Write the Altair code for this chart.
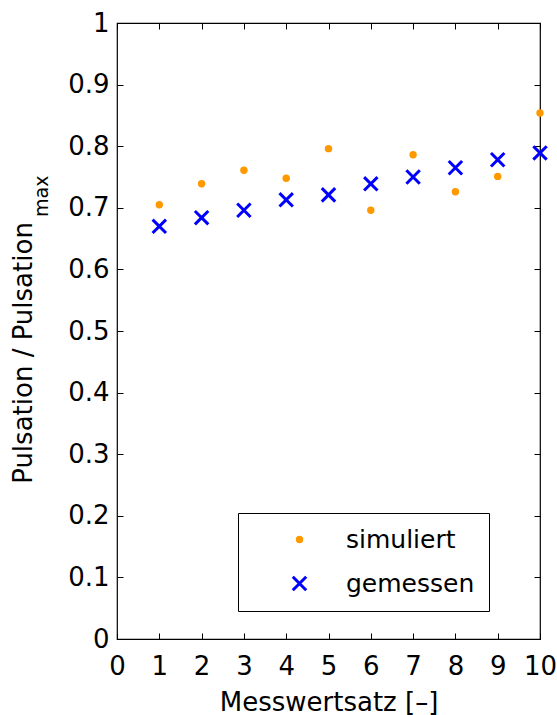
import altair as alt
import pandas as pd

# ---- data ----
messwertsatz = [1, 2, 3, 4, 5, 6, 7, 8, 9, 10]
simuliert = [0.705, 0.739, 0.761, 0.748, 0.796, 0.696, 0.786, 0.726, 0.751, 0.854]
gemessen = [0.670, 0.684, 0.696, 0.713, 0.721, 0.739, 0.750, 0.765, 0.778, 0.789]
series_names = ["simuliert", "gemessen"]
x_ticks = [0, 1, 2, 3, 4, 5, 6, 7, 8, 9, 10]
y_ticks = [0, 0.1, 0.2, 0.3, 0.4, 0.5, 0.6, 0.7, 0.8, 0.9, 1]
y_title_main = ["Pulsation / Pulsation"]
y_title_sub = ["max"]

FONT = "DejaVu Sans"
X_PATH = "M-1,-1L1,1M1,-1L-1,1"

df = pd.DataFrame({
    "Messwertsatz": messwertsatz + messwertsatz,
    "Wert": simuliert + gemessen,
    "Serie": [series_names[0]] * len(simuliert) + [series_names[1]] * len(gemessen),
})

xscale = alt.Scale(domain=[0, 10], nice=False, zero=False)
yscale = alt.Scale(domain=[0, 1], nice=False)

x_axis = alt.Axis(values=x_ticks, orient="bottom", offset=-6, tickSize=6, tickColor="black",
                  domain=False, grid=False, labelFont=FONT, labelFontSize=26, labelColor="black",
                  labelPadding=14, labelFlush=False, title="Messwertsatz [–]", titleFont=FONT,
                  titleFontSize=26, titleFontWeight="normal", titleColor="black", titlePadding=10)
y_axis = alt.Axis(values=y_ticks, orient="left", offset=-6, tickSize=6, tickColor="black",
                  domain=False, grid=False, labelFont=FONT, labelFontSize=26, labelColor="black",
                  labelPadding=8, labelFlush=False, format=".1~f", title=None)

legend = alt.Legend(title=None, orient="none", legendX=121, legendY=490,
                    strokeColor="black", fillColor="white", padding=14,
                    labelFont=FONT, labelFontSize=25, labelColor="black",
                    symbolOffset=35, labelOffset=34, rowPadding=17,
                    symbolStrokeWidth=3, cornerRadius=0)

points = alt.Chart(df).mark_point(strokeWidth=3, opacity=1, filled=False).encode(
    x=alt.X("Messwertsatz:Q", scale=xscale, axis=x_axis),
    y=alt.Y("Wert:Q", scale=yscale, axis=y_axis),
    shape=alt.Shape("Serie:N", scale=alt.Scale(domain=series_names, range=["circle", X_PATH]), legend=legend),
    fill=alt.Fill("Serie:N", scale=alt.Scale(domain=series_names, range=["#FF9900", "transparent"]), legend=legend),
    stroke=alt.Stroke("Serie:N", scale=alt.Scale(domain=series_names, range=["transparent", "#0000FF"]), legend=legend),
    size=alt.Size("Serie:N", scale=alt.Scale(domain=series_names, range=[55, 180]), legend=legend),
)

mirror = alt.Chart(df).mark_point(opacity=0).encode(
    x=alt.X("Messwertsatz:Q", scale=xscale,
            axis=alt.Axis(values=x_ticks, orient="top", offset=-6, tickSize=6, tickColor="black",
                          domain=False, grid=False, labels=False, title=None)),
    y=alt.Y("Wert:Q", scale=yscale,
            axis=alt.Axis(values=y_ticks, orient="right", offset=-6, tickSize=6, tickColor="black",
                          domain=False, grid=False, labels=False, title=None)),
)

title_main = alt.Chart(pd.DataFrame({"t": y_title_main})).mark_text(
    angle=270, align="center", baseline="alphabetic", font=FONT, fontSize=26, color="black"
).encode(text="t:N", x=alt.value(-85), y=alt.value(330))

title_sub = alt.Chart(pd.DataFrame({"t": y_title_sub})).mark_text(
    angle=270, align="left", baseline="alphabetic", font=FONT, fontSize=19, color="black"
).encode(text="t:N", x=alt.value(-69), y=alt.value(194))

chart = alt.layer(points, mirror, title_main, title_sub).resolve_axis(
    x="independent", y="independent"
).properties(
    width=423, height=616,
    autosize=alt.AutoSizeParams(type="none"),
    padding={"left": 117, "top": 23, "right": 17, "bottom": 76},
    background="white",
).configure_view(stroke="black", strokeWidth=1.2)

chart.save("out.html", embed_options={"renderer": "svg", "actions": False})
